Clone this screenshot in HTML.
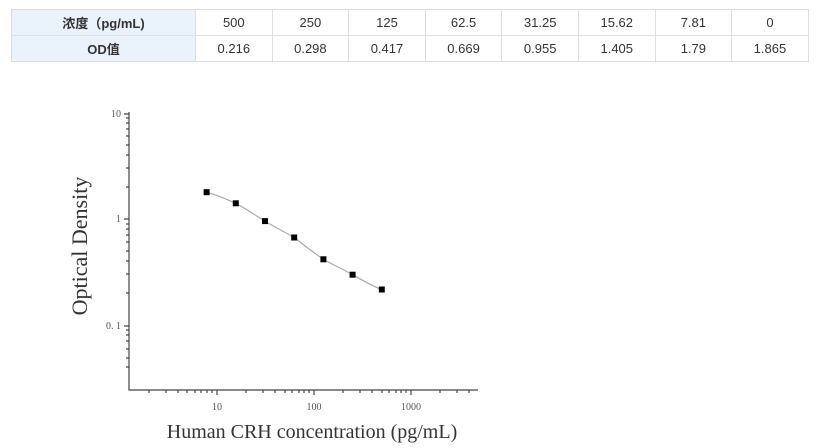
<!DOCTYPE html>
<html><head><meta charset="utf-8"><style>
body{margin:0;width:838px;height:448px;background:#fff;overflow:hidden;position:relative;font-family:"Liberation Sans","Noto Sans CJK SC",sans-serif}
table{position:absolute;left:11px;top:9px;border-collapse:collapse;font-size:13px;color:#333}
td{border:1px solid #ddd;height:25px;padding:0;text-align:center;width:75.6px}
td.h{background:#eaf2fb;font-weight:bold;width:183px}
svg{position:absolute;left:0;top:0}
</style></head><body>
<table>
<tr><td class="h">浓度（pg/mL)</td><td>500</td><td>250</td><td>125</td><td>62.5</td><td>31.25</td><td>15.62</td><td>7.81</td><td>0</td></tr>
<tr><td class="h">OD值</td><td>0.216</td><td>0.298</td><td>0.417</td><td>0.669</td><td>0.955</td><td>1.405</td><td>1.79</td><td>1.865</td></tr>
</table>
<svg width="838" height="448" font-family="Liberation Serif,serif">
<g stroke="#444" stroke-width="1.2" fill="none">
<path d="M129,112V390H478"/>
<path d="M124,114H129M124,219H129M124,326H129"/>
<path d="M126,187H129M126,168H129M126,155H129M126,145H129M126,136H129M126,129H129M126,123H129M126,118H129
M126,293H129M126,274H129M126,261H129M126,251H129M126,242H129M126,235H129M126,229H129M126,224H129
M126,367H129M126,358H129M126,349H129M126,341H129M126,335H129M126,330H129"/>
<path d="M217,390V395M314,390V395M411,390V395"/>
<path d="M149,390V393M166,390V393M178,390V393M187,390V393M195,390V393M201,390V393M207,390V393M212,390V393
M246,390V393M263,390V393M275,390V393M285,390V393M292,390V393M299,390V393M304,390V393M309,390V393
M343,390V393M360,390V393M372,390V393M382,390V393M389,390V393M396,390V393M401,390V393M406,390V393
M440,390V393M457,390V393M469,390V393"/>
</g>
<g font-size="10" fill="#555">
<text x="121" y="117" text-anchor="end">10</text>
<text x="121" y="222" text-anchor="end">1</text>
<text x="121" y="329" text-anchor="end">0. 1</text>
<text x="217" y="410" text-anchor="middle">10</text>
<text x="314" y="410" text-anchor="middle">100</text>
<text x="411" y="410" text-anchor="middle">1000</text>
</g>
<path d="M206.6,192.2 C220,196 228,200 235.8,203.3 C248,210 256,216 265,221.1 C276,228 285,232 294.2,237.5 C305,246 314,253 323.4,259.3 C333,265 343,269 352.6,274.7 C362,280 372,286 381.8,289.5" stroke="#aaa" stroke-width="1.2" fill="none"/>
<g fill="#000">
<rect x="203.6" y="189.2" width="6" height="6"/><rect x="232.8" y="200.3" width="6" height="6"/><rect x="262" y="218.1" width="6" height="6"/><rect x="291.2" y="234.5" width="6" height="6"/><rect x="320.4" y="256.3" width="6" height="6"/><rect x="349.6" y="271.7" width="6" height="6"/><rect x="378.8" y="286.5" width="6" height="6"/>
</g>
<text x="312" y="438" font-size="20" text-anchor="middle" fill="#333">Human CRH concentration (pg/mL)</text>
<text transform="translate(87,246) rotate(-90)" font-size="22" text-anchor="middle" fill="#333">Optical Density</text>
</svg>
</body></html>
